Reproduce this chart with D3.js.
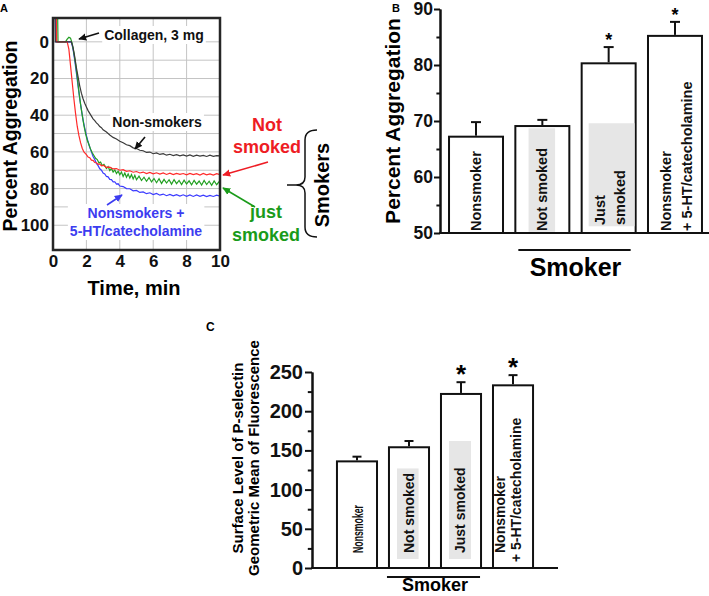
<!DOCTYPE html>
<html>
<head>
<meta charset="utf-8">
<script src="https://cdn.jsdelivr.net/npm/d3@7"></script>
<style>
  body { margin: 0; background: #fff; }
  svg { display: block; font-family: Arial, "Liberation Sans", Helvetica, sans-serif; }
</style>
</head>
<body>
<svg id="chart" width="709" height="596"></svg>
<script>
// ---- panel A: aggregation traces, [time (min), percent aggregation]
const nonSmokersTrace = [[0.12,-13],[0.14,0],[1.1,0],[1.2,3],[1.3,8],[1.4,14],[1.5,19],[1.6,24],[1.7,28],[1.8,31],[1.9,33.5],[2.0,35.5],[2.1,37.5],[2.2,39],[2.3,40.5],[2.4,42],[2.5,43],[2.6,44.2],[2.7,45],[2.8,46.2],[2.9,46.8],[3.0,48],[3.2,49.2],[3.4,50.8],[3.6,52.1],[3.8,53],[4.0,54.2],[4.2,55],[4.4,56.1],[4.6,56.6],[4.8,57.8],[5.0,58.2],[5.2,59.1],[5.4,59.4],[5.6,60.3],[5.8,60.1],[6.0,61],[6.2,60.6],[6.4,61.4],[6.6,61],[6.8,61.8],[7.0,61.3],[7.2,62],[7.4,61.5],[7.6,62.2],[7.8,61.6],[8.0,62.3],[8.2,61.7],[8.4,62.4],[8.6,61.8],[8.8,62.3],[9.0,61.9],[9.2,62.5],[9.4,61.8],[9.6,62.4],[9.8,62],[10,62.2]];
const notSmokedTrace = [[0.2,-13],[0.22,0],[0.85,0],[0.95,4],[1.05,13],[1.15,22],[1.25,31],[1.35,39],[1.45,46],[1.55,51],[1.65,55],[1.75,58],[1.85,60],[2.0,61.5],[2.1,62.8],[2.2,63.2],[2.3,64.5],[2.4,64.6],[2.5,65.8],[2.6,65.9],[2.7,66.8],[2.8,66.6],[2.9,67.6],[3.0,67.3],[3.2,68.4],[3.4,68.3],[3.6,69.3],[3.8,69.1],[4.0,70],[4.2,69.7],[4.4,70.6],[4.6,70.3],[4.8,71.1],[5.0,70.7],[5.2,71.5],[5.4,71],[5.6,71.8],[5.8,71.2],[6.0,72],[6.2,71.4],[6.4,72.1],[6.6,71.5],[6.8,72.3],[7.0,71.6],[7.2,72.4],[7.4,71.7],[7.6,72.3],[7.8,71.8],[8.0,72.5],[8.2,71.7],[8.4,72.4],[8.6,71.9],[8.8,72.6],[9.0,71.8],[9.2,72.5],[9.4,72],[9.6,72.6],[9.8,71.9],[10,72.4]];
const justSmokedTrace = [[0.28,-13],[0.3,0],[0.75,0],[0.85,-1.5],[0.95,-2.5],[1.05,-2],[1.15,1],[1.25,6],[1.35,12],[1.45,19],[1.55,27],[1.65,34],[1.75,40],[1.85,45.5],[1.95,50],[2.05,53.5],[2.15,56],[2.25,58.5],[2.35,60.5],[2.45,62],[2.55,63.5],[2.65,64.2],[2.75,66],[2.85,65.5],[2.95,67.5],[3.05,66.8],[3.2,69],[3.3,68],[3.4,70.2],[3.5,69],[3.6,71],[3.7,69.8],[3.8,71.8],[3.9,70.5],[4.0,72.5],[4.1,71],[4.2,73.4],[4.3,71.5],[4.4,73.8],[4.5,72],[4.6,74.3],[4.7,72.4],[4.8,74.8],[4.9,72.8],[5.0,75.2],[5.15,73.2],[5.3,75.6],[5.45,73.8],[5.6,76],[5.75,74],[5.9,76.4],[6.05,74.5],[6.2,76.8],[6.35,74.6],[6.5,77.2],[6.65,75],[6.8,77],[6.95,75.2],[7.1,77.6],[7.25,75.1],[7.4,77.3],[7.55,75.6],[7.7,77.8],[7.85,75.4],[8.0,77.5],[8.15,75.8],[8.3,78],[8.45,75.5],[8.6,77.6],[8.75,75.9],[8.9,78.1],[9.05,75.6],[9.2,77.8],[9.35,76],[9.5,78.2],[9.65,75.8],[9.8,77.9],[9.95,76.2],[10,77]];
const catecholTrace = [[0.16,-13],[0.18,0],[1.1,0],[1.2,4],[1.3,10],[1.4,17],[1.5,24],[1.6,31],[1.7,37],[1.8,42.5],[1.9,47],[2.0,51],[2.1,54.5],[2.2,57.5],[2.3,60],[2.4,62.5],[2.5,64.2],[2.6,66.3],[2.7,67.5],[2.8,69.2],[2.9,70],[3.0,71.5],[3.1,72],[3.2,73.4],[3.3,73.6],[3.4,75],[3.5,75.1],[3.6,76.4],[3.7,76.3],[3.8,77.6],[3.9,77.4],[4.0,78.6],[4.2,78.9],[4.4,80],[4.6,80.1],[4.8,81.2],[5.0,81],[5.2,82.1],[5.4,81.8],[5.6,82.8],[5.8,82.3],[6.0,83.3],[6.2,82.7],[6.4,83.6],[6.6,83],[6.8,83.9],[7.0,83.2],[7.2,84],[7.4,83.3],[7.6,84.1],[7.8,83.4],[8.0,84.2],[8.2,83.5],[8.4,84.3],[8.6,83.5],[8.8,84.2],[9.0,83.6],[9.2,84.4],[9.4,83.7],[9.6,84.3],[9.8,83.6],[10,84.1]];
const timeTicks = [0, 2, 4, 6, 8, 10];
const aggTicksA = [0, 20, 40, 60, 80, 100];

// ---- panels B and C: bar charts
const groups = ['Nonsmoker', 'Not smoked', 'Just smoked', 'Nonsmoker + 5-HT/catecholamine'];
const labelsB = [['Nonsmoker'], ['Not smoked'], ['Just', 'smoked'], ['Nonsmoker', '+ 5-HT/catecholamine']];
const labelsC = [['Nonsmoker'], ['Not smoked'], ['Just smoked'], ['Nonsmoker', '+ 5-HT/catecholamine']];
const aggMeans = [67.2, 69.1, 80.3, 85.2];
const aggErrors = [2.6, 1.1, 2.9, 2.5];
const aggSignificant = [false, false, true, true];
const shadeTopB = [null, 68.7, 69.6, null];
const shadeBaseB = [null, 50.2, 51.2, null];
const pselMeans = [136, 154, 222, 233];
const pselErrors = [6, 8, 15, 13];
const pselSignificant = [false, false, true, true];
const shadeTopC = [null, 127, 162, null];
const shadeBaseC = [null, 11.5, 11.5, null];
const aggTicksB = [50, 60, 70, 80, 90];
const pselTicks = [0, 50, 100, 150, 200, 250];

const svg = d3.select('#chart');
const defs = svg.append('defs');

function arrowMarker(id, color) {
  defs.append('marker')
    .attr('id', id)
    .attr('viewBox', '0 0 10 10')
    .attr('refX', 9).attr('refY', 5)
    .attr('markerWidth', 8).attr('markerHeight', 8)
    .attr('markerUnits', 'userSpaceOnUse')
    .attr('orient', 'auto')
    .append('path').attr('d', 'M0,0.5 L10,5 L0,9.5 z').attr('fill', color);
}

// white-backed label, lines centred on x
function boxedText(g, lines, x, y, size, color, lh) {
  const t = g.append('text')
    .attr('font-size', size).attr('font-weight', 'bold')
    .attr('fill', color).attr('text-anchor', 'middle');
  lines.forEach((s, i) => t.append('tspan').attr('x', x).attr('y', y + i * lh).text(s));
  const bb = t.node().getBBox();
  g.insert('rect', () => t.node())
    .attr('x', bb.x - 2).attr('y', bb.y - 1)
    .attr('width', bb.width + 4).attr('height', bb.height + 2)
    .attr('fill', '#fff');
  return t;
}

// ================= Panel A =================
const xA = d3.scaleLinear().domain([0, 10]).range([53, 220]);
const yA = d3.scaleLinear().domain([-13, 113.5]).range([18, 250]);
const gA = svg.append('g');

defs.append('clipPath').attr('id', 'clipA').append('rect')
  .attr('x', xA(0)).attr('y', yA(-13)).attr('width', xA(10) - xA(0)).attr('height', yA(113.5) - yA(-13));

const grid = gA.append('g').attr('stroke', '#c4c4c4').attr('stroke-width', 1);
grid.selectAll('.v').data([2, 4, 6, 8]).join('line').attr('class', 'v')
  .attr('x1', d => xA(d)).attr('x2', d => xA(d)).attr('y1', yA(-13)).attr('y2', yA(113.5));
grid.selectAll('.h').data(d3.range(0, 101, 10)).join('line').attr('class', 'h')
  .attr('x1', xA(0)).attr('x2', xA(10)).attr('y1', d => yA(d)).attr('y2', d => yA(d));

const traceLine = d3.line().x(d => xA(d[0])).y(d => yA(d[1]));
const traces = [
  { data: catecholTrace, color: '#3b3bff' },
  { data: justSmokedTrace, color: '#22a022' },
  { data: notSmokedTrace, color: '#ff2a2a' },
  { data: nonSmokersTrace, color: '#3a3a3a' }
];
const gTr = gA.append('g').attr('clip-path', 'url(#clipA)');
traces.forEach(tr => {
  gTr.append('path').attr('d', traceLine(tr.data))
    .attr('fill', 'none').attr('stroke', tr.color).attr('stroke-width', 1.2);
});

gA.append('rect')
  .attr('x', xA(0)).attr('y', yA(-13)).attr('width', xA(10) - xA(0)).attr('height', yA(113.5) - yA(-13))
  .attr('fill', 'none').attr('stroke', '#262626').attr('stroke-width', 2.5);

const axAy = gA.append('g').attr('transform', `translate(${xA(0)},0)`)
  .call(d3.axisLeft(yA).tickValues(aggTicksA).tickSize(0).tickPadding(4));
const axAx = gA.append('g').attr('transform', `translate(0,${yA(113.5)})`)
  .call(d3.axisBottom(xA).tickValues(timeTicks).tickSize(0).tickPadding(5));
[axAy, axAx].forEach(a => {
  a.select('.domain').remove();
  a.selectAll('text').attr('font-size', 17).attr('font-weight', 'bold').attr('fill', '#111')
    .attr('font-family', 'Arial, "Liberation Sans", sans-serif');
});

gA.append('text').attr('transform', 'translate(17,136) rotate(-90)')
  .attr('text-anchor', 'middle').attr('font-size', 19.5).attr('font-weight', 'bold')
  .text('Percent Aggregation');
gA.append('text').attr('x', 134).attr('y', 295)
  .attr('text-anchor', 'middle').attr('font-size', 20).attr('font-weight', 'bold')
  .text('Time, min');
svg.append('text').attr('x', 0).attr('y', 12).attr('font-size', 11).attr('font-weight', 'bold').text('A');

arrowMarker('arK', '#111');
arrowMarker('arR', '#ee1c24');
arrowMarker('arG', '#1a9b1a');
arrowMarker('arB', '#3c3cf0');

boxedText(gA, ['Collagen, 3 mg'], 154, 40, 14, '#111', 16);
boxedText(gA, ['Non-smokers'], 157, 127, 14, '#111', 16);
boxedText(gA, ['Nonsmokers +', '5-HT/catecholamine'], 136, 218, 14, '#3c3cf0', 18);

const arrows = [
  { x1: 99, y1: 33, x2: 79, y2: 39, m: 'arK', c: '#111' },
  { x1: 145, y1: 137, x2: 135, y2: 149, m: 'arK', c: '#111' },
  { x1: 107, y1: 205, x2: 122, y2: 195, m: 'arB', c: '#3c3cf0' },
  { x1: 268, y1: 162, x2: 223, y2: 175, m: 'arR', c: '#ee1c24' },
  { x1: 255, y1: 207, x2: 223, y2: 188, m: 'arG', c: '#1a9b1a' }
];
gA.selectAll('.arrow').data(arrows).join('line').attr('class', 'arrow')
  .attr('x1', d => d.x1).attr('y1', d => d.y1).attr('x2', d => d.x2).attr('y2', d => d.y2)
  .attr('stroke', d => d.c).attr('stroke-width', 1.6)
  .attr('marker-end', d => `url(#${d.m})`);

const redT = gA.append('text').attr('text-anchor', 'middle').attr('font-size', 18)
  .attr('font-weight', 'bold').attr('fill', '#ee1c24');
redT.append('tspan').attr('x', 267).attr('y', 131).text('Not');
redT.append('tspan').attr('x', 267).attr('y', 153).text('smoked');
const greenT = gA.append('text').attr('text-anchor', 'middle').attr('font-size', 18)
  .attr('font-weight', 'bold').attr('fill', '#1a9b1a');
greenT.append('tspan').attr('x', 266).attr('y', 218).text('just');
greenT.append('tspan').attr('x', 266).attr('y', 241).text('smoked');

gA.append('path')
  .attr('d', 'M317,130 Q305,130 305,140 L305,177 Q305,185 296,185 L287,185 M296,185 Q305,185 305,193 L305,227 Q305,237 317,237')
  .attr('fill', 'none').attr('stroke', '#111').attr('stroke-width', 1.5);
gA.append('text').attr('transform', 'translate(329,185) rotate(-90)')
  .attr('text-anchor', 'middle').attr('font-size', 20).attr('font-weight', 'bold')
  .text('Smokers');

// ================= bar panels =================
function barPanel(cfg) {
  const g = svg.append('g');
  const x = d3.scaleBand().domain(groups).range(cfg.xRange)
    .paddingInner(cfg.padIn).paddingOuter(cfg.padOut);
  const y = d3.scaleLinear().domain(cfg.yDomain).range(cfg.yRange);
  const bw = x.bandwidth();
  const y0 = cfg.yRange[0];

  // bars
  g.selectAll('.bar').data(groups).join('rect').attr('class', 'bar')
    .attr('x', d => x(d)).attr('y', (d, i) => y(cfg.means[i]))
    .attr('width', bw).attr('height', (d, i) => y0 - y(cfg.means[i]))
    .attr('fill', '#fff').attr('stroke', '#111').attr('stroke-width', 2);

  // grey label panels
  g.selectAll('.shade').data(groups).join('rect').attr('class', 'shade')
    .filter((d, i) => cfg.shadeTop[i] != null)
    .attr('x', d => x(d) + bw * cfg.shadeSpan[groups.indexOf(d)][0])
    .attr('width', d => bw * (cfg.shadeSpan[groups.indexOf(d)][1] - cfg.shadeSpan[groups.indexOf(d)][0]))
    .attr('y', d => y(cfg.shadeTop[groups.indexOf(d)]))
    .attr('height', d => y(cfg.shadeBase[groups.indexOf(d)]) - y(cfg.shadeTop[groups.indexOf(d)]))
    .attr('fill', '#e6e6e6');

  // error bars
  const eb = g.selectAll('.err').data(groups).join('g').attr('class', 'err')
    .attr('stroke', '#111').attr('stroke-width', 2);
  eb.append('line')
    .attr('x1', d => x(d) + bw / 2).attr('x2', d => x(d) + bw / 2)
    .attr('y1', (d, i) => y(cfg.means[i]) - 1).attr('y2', (d, i) => y(cfg.means[i] + cfg.errors[i]));
  eb.append('line')
    .attr('x1', d => x(d) + bw / 2 - cfg.cap).attr('x2', d => x(d) + bw / 2 + cfg.cap)
    .attr('y1', (d, i) => y(cfg.means[i] + cfg.errors[i])).attr('y2', (d, i) => y(cfg.means[i] + cfg.errors[i]));

  // significance stars
  g.selectAll('.star').data(groups).join('text').attr('class', 'star')
    .filter((d, i) => cfg.sig[i])
    .attr('x', d => x(d) + bw / 2)
    .attr('y', d => y(cfg.means[groups.indexOf(d)] + cfg.errors[groups.indexOf(d)]) + cfg.starDy)
    .attr('text-anchor', 'middle').attr('font-size', cfg.starSize).attr('font-weight', 'bold')
    .text('*');

  // in-bar labels
  cfg.labels.forEach((lines, i) => {
    lines.forEach((s, j) => {
      const t = g.append('text')
        .attr('transform', `translate(${x(groups[i]) + bw / 2 + cfg.labelDx[i][j]},${cfg.labelStart[i][j]}) rotate(-90)`)
        .attr('dominant-baseline', 'central')
        .attr('font-size', cfg.labelSize).attr('font-weight', 'bold').attr('fill', '#111')
        .text(s);
      if (cfg.labelLen && cfg.labelLen[i]) {
        t.attr('textLength', cfg.labelLen[i]).attr('lengthAdjust', 'spacingAndGlyphs');
      }
    });
  });

  // axes
  const major = g.append('g').attr('transform', `translate(${cfg.xRange[0]},0)`)
    .call(d3.axisLeft(y).tickValues(cfg.ticks).tickSize(cfg.tick).tickSizeOuter(0).tickPadding(cfg.tickPad));
  const minor = g.append('g').attr('transform', `translate(${cfg.xRange[0]},0)`)
    .call(d3.axisLeft(y).tickValues(cfg.ticks.slice(1).map((v, i) => (v + cfg.ticks[i]) / 2))
      .tickSize(cfg.tick * 0.6).tickSizeOuter(0).tickFormat(''));
  [major, minor].forEach(a => {
    a.select('.domain').attr('stroke', '#111').attr('stroke-width', 2);
    a.selectAll('.tick line').attr('stroke', '#111').attr('stroke-width', 2);
  });
  major.selectAll('text').attr('font-size', cfg.tickSize).attr('font-weight', 'bold').attr('fill', '#111')
    .attr('font-family', 'Arial, "Liberation Sans", sans-serif');
  g.append('line').attr('x1', cfg.xRange[0] - 1).attr('x2', cfg.axisEnd)
    .attr('y1', y0).attr('y2', y0).attr('stroke', '#111').attr('stroke-width', 2);

  // smoker bracket
  g.append('line').attr('x1', x(groups[1]) + cfg.brk[0]).attr('x2', x(groups[2]) + bw + cfg.brk[1])
    .attr('y1', cfg.brkY).attr('y2', cfg.brkY).attr('stroke', '#111').attr('stroke-width', 2);
  g.append('text').attr('x', (x(groups[1]) + x(groups[2]) + bw) / 2).attr('y', cfg.smokerY)
    .attr('text-anchor', 'middle').attr('font-size', cfg.smokerSize).attr('font-weight', 'bold')
    .text('Smoker');
  return g;
}

const gB = barPanel({
  xRange: [440, 711], padIn: 0.186, padOut: 0.136,
  yDomain: [50, 90], yRange: [233, 9],
  means: aggMeans, errors: aggErrors, sig: aggSignificant,
  shadeTop: shadeTopB, shadeBase: shadeBaseB,
  shadeSpan: [null, [0.245, 0.736], [0.13, 0.98], null],
  cap: 5, starSize: 18, starDy: -1,
  labels: labelsB, labelSize: 14.5,
  labelDx: [[0], [0], [-9, 11], [-9, 12.5]],
  labelStart: [[231], [231], [225, 225], [231, 231]],
  ticks: aggTicksB, tick: 6, tickPad: 1, tickSize: 17.5,
  axisEnd: 709, brk: [3, -5], brkY: 250, smokerY: 276, smokerSize: 25
});
gB.append('text').attr('transform', 'translate(400,121) rotate(-90)')
  .attr('text-anchor', 'middle').attr('font-size', 21).attr('font-weight', 'bold')
  .text('Percent Aggregation');
svg.append('text').attr('x', 392).attr('y', 12).attr('font-size', 11).attr('font-weight', 'bold').text('B');

const gC = barPanel({
  xRange: [312, 558], padIn: 0.23, padOut: 0.48,
  yDomain: [0, 250], yRange: [568, 372],
  means: pselMeans, errors: pselErrors, sig: pselSignificant,
  shadeTop: shadeTopC, shadeBase: shadeBaseC,
  shadeSpan: [null, [0.2, 0.74], [0.2, 0.75], null],
  cap: 4.5, starSize: 26, starDy: 1,
  labels: labelsC, labelSize: 14, labelLen: [48, 0, 0, 0],
  labelDx: [[1], [0], [-1], [-13, 3]],
  labelStart: [[553], [553], [553], [553, 562]],
  ticks: pselTicks, tick: 7, tickPad: 2, tickSize: 20,
  axisEnd: 558, brk: [-2, -1], brkY: 577, smokerY: 591, smokerSize: 18
});
gC.append('text').attr('transform', 'translate(243,458) rotate(-90)')
  .attr('text-anchor', 'middle').attr('font-size', 15).attr('font-weight', 'bold')
  .text('Surface Level of P-selectin');
gC.append('text').attr('transform', 'translate(259,458) rotate(-90)')
  .attr('text-anchor', 'middle').attr('font-size', 15).attr('font-weight', 'bold')
  .text('Geometric Mean of Fluorescence');
svg.append('text').attr('x', 206).attr('y', 331).attr('font-size', 12).attr('font-weight', 'bold').text('C');
</script>
</body>
</html>
